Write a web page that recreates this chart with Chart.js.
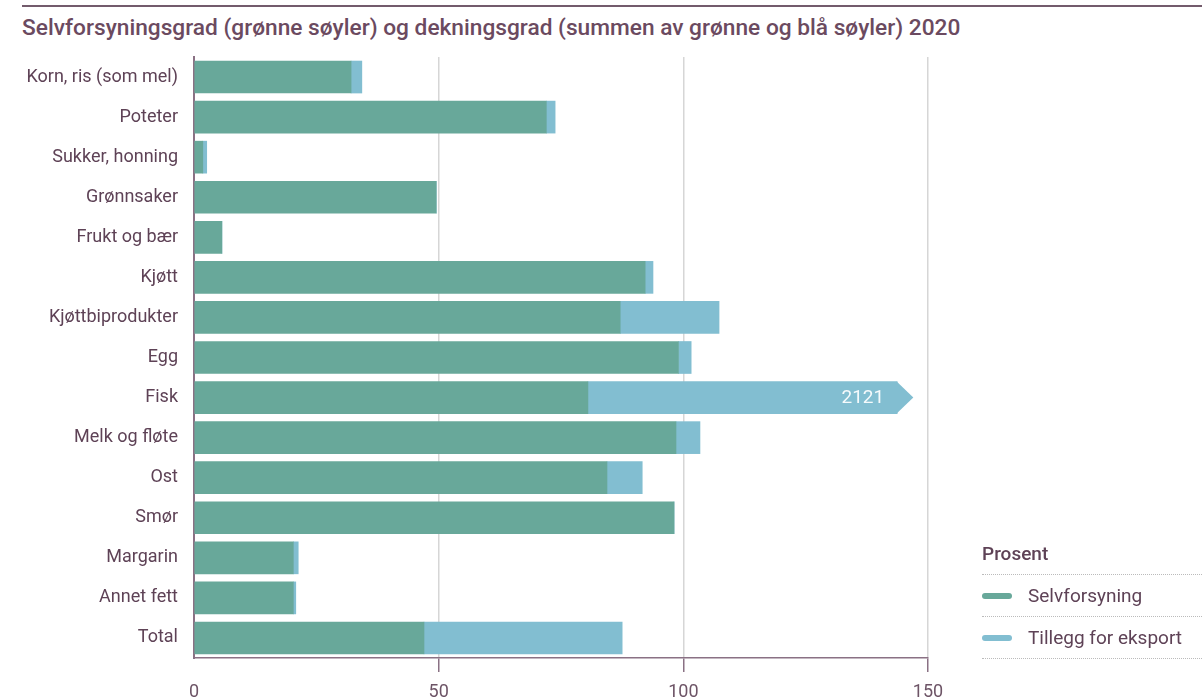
<!DOCTYPE html>
<html>
<head>
<meta charset="utf-8">
<script src="https://cdn.jsdelivr.net/npm/chart.js@4.4.1/dist/chart.umd.min.js"></script>
<style>
  html, body { margin: 0; padding: 0; background: #fff; }
  body { width: 1202px; height: 699px; position: relative; overflow: hidden; font-family: Roboto, "Noto Sans", sans-serif; }
  #topline { position: absolute; left: 22px; right: 0; top: 5px; height: 2px; background: #735b6c; }
  #title { position: absolute; left: 22px; top: 14px; font-size: 22.7px; line-height: 27px; font-weight: 500; color: #6b4a60; white-space: nowrap; }
  #wrap { position: absolute; left: 0; top: 0; width: 1202px; height: 699px; }
  #legend { position: absolute; left: 982px; top: 540px; width: 220px; color: #5e4256; font-size: 19px; }
  #legend .head { font-weight: 500; height: 34px; line-height: 28px; border-bottom: 1px dotted #bbb; }
  #legend .item { height: 41px; line-height: 41px; border-bottom: 1px dotted #bbb; position: relative; padding-left: 46px; }
  #legend .sw { position: absolute; left: 0; top: 18px; width: 30px; height: 6px; border-radius: 3px; }
</style>
</head>
<body>
<div id="topline"></div>
<div id="title">Selvforsyningsgrad (grønne søyler) og dekningsgrad (summen av grønne og blå søyler) 2020</div>
<div id="wrap"><canvas id="c" width="1202" height="699"></canvas></div>
<div id="legend">
  <div class="head">Prosent</div>
  <div class="item"><span class="sw" style="background:#68a89a"></span>Selvforsyning</div>
  <div class="item"><span class="sw" style="background:#82bed1"></span>Tillegg for eksport</div>
</div>
<script>
const categories = ["Korn, ris (som mel)", "Poteter", "Sukker, honning", "Grønnsaker", "Frukt og bær", "Kjøtt", "Kjøttbiprodukter", "Egg", "Fisk", "Melk og fløte", "Ost", "Smør", "Margarin", "Annet fett", "Total"];
const selvforsyning = [32.1, 72.0, 1.8, 49.5, 5.7, 92.2, 87.1, 99.0, 80.5, 98.5, 84.4, 98.1, 20.3, 20.3, 47.0];
const tilleggEksport = [2.2, 1.8, 0.8, 0, 0, 1.6, 20.2, 2.6, 2040.5, 4.9, 7.2, 0, 1.0, 0.5, 40.5];
const xTicks = [0, 50, 100, 150];
const seriesNames = ["Selvforsyning", "Tillegg for eksport"];

// Truncation of bars that exceed the axis (drawn as an arrow)
const BREAK_AT = 143.7;
const ARROW_TIP = 147;

const GREEN = "#68a89a", BLUE = "#82bed1", PURPLE = "#8a7184", TEXT = "#5e4256", GRID = "#d6d6d6";

const truncPlugin = {
  id: "trunc",
  afterDatasetsUpdate(chart) {
    const xs = chart.scales.x;
    const meta = chart.getDatasetMeta(1);
    meta.data.forEach((el, i) => {
      const total = selvforsyning[i] + tilleggEksport[i];
      if (total > xs.max) el.x = xs.getPixelForValue(BREAK_AT);
    });
  },
  afterDatasetsDraw(chart) {
    const xs = chart.scales.x, ctx = chart.ctx;
    const meta = chart.getDatasetMeta(1);
    meta.data.forEach((el, i) => {
      const total = selvforsyning[i] + tilleggEksport[i];
      if (total <= xs.max) return;
      const half = el.height / 2;
      const x0 = xs.getPixelForValue(BREAK_AT), x1 = xs.getPixelForValue(ARROW_TIP);
      ctx.save();
      ctx.fillStyle = BLUE;
      ctx.beginPath();
      ctx.moveTo(x0 - 0.5, el.y - half);
      ctx.lineTo(x1, el.y);
      ctx.lineTo(x0 - 0.5, el.y + half);
      ctx.closePath();
      ctx.fill();
      ctx.fillStyle = "rgba(255,255,255,0.92)";
      ctx.font = "19px Roboto";
      ctx.textAlign = "right";
      ctx.textBaseline = "middle";
      ctx.fillText(String(Math.round(total)), x0 - 13, el.y + 1);
      ctx.restore();
    });
  }
};

new Chart(document.getElementById("c"), {
  type: "bar",
  data: {
    labels: categories,
    datasets: [
      { label: seriesNames[0], data: selvforsyning, backgroundColor: GREEN, borderWidth: 0 },
      { label: seriesNames[1], data: tilleggEksport, backgroundColor: BLUE, borderWidth: 0 }
    ]
  },
  options: {
    indexAxis: "y",
    responsive: false,
    animation: false,
    layout: { padding: { top: 57, right: 274, left: 0, bottom: 0 } },
    plugins: { legend: { display: false }, tooltip: { enabled: false } },
    datasets: { bar: { barThickness: 32 } },
    scales: {
      x: {
        stacked: true,
        min: 0, max: 150,
        afterBuildTicks(s) { s.ticks = xTicks.map(v => ({ value: v })); },
        afterFit(s) { s.height = 41; },
        grid: {
          color: c => (c.tick && c.tick.value === 0) ? "rgba(0,0,0,0)" : GRID,
          lineWidth: 1.5,
          tickLength: 14,
          tickColor: c => (c.tick && c.tick.value === 0) ? "rgba(0,0,0,0)" : PURPLE,
          tickWidth: 1.5
        },
        border: { color: PURPLE, width: 1.5 },
        ticks: { color: "#6d5466", font: { family: "Roboto", size: 18 }, padding: 10, maxRotation: 0 }
      },
      y: {
        stacked: true,
        afterFit(s) { s.width = 194; },
        grid: { display: false, drawTicks: false },
        border: { color: PURPLE, width: 2 },
        ticks: { color: TEXT, font: { family: "Roboto", size: 18 }, padding: 16 }
      }
    }
  },
  plugins: [truncPlugin]
});
</script>
</body>
</html>
